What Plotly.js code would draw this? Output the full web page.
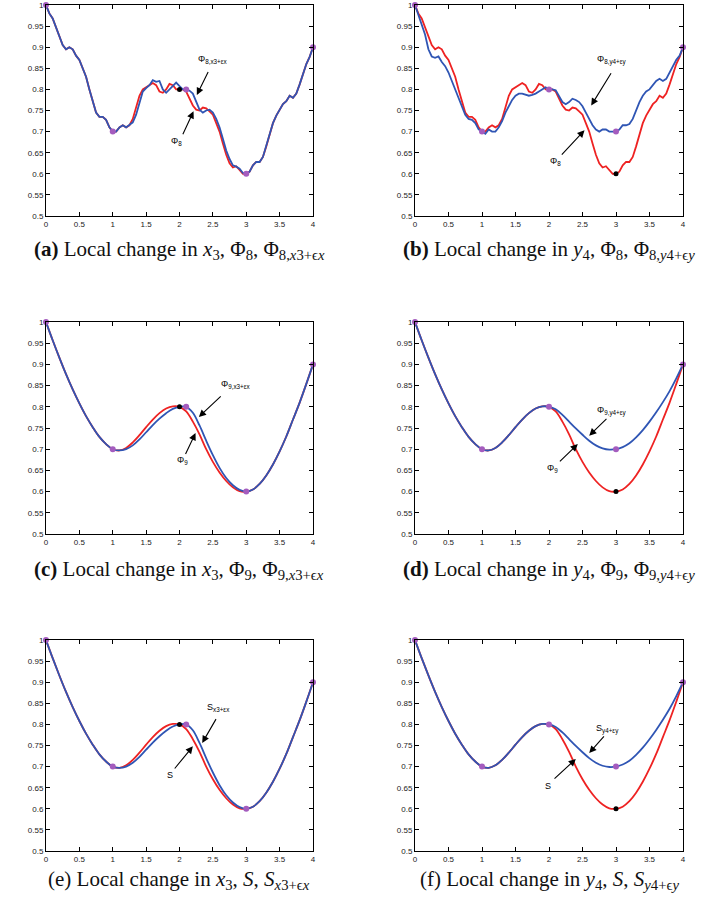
<!DOCTYPE html>
<html><head><meta charset="utf-8">
<script src="https://cdn.plot.ly/plotly-3.0.1.min.js"></script>
<style>html,body{margin:0;padding:0;background:#fff;}#plot{width:713px;height:919px;}</style>
</head><body><div id="plot"></div>
<script>
// ---------- data ----------
const xFine = [0,0.05,0.1,0.15,0.2,0.25,0.3,0.35,0.4,0.45,0.5,0.55,0.6,0.65,0.7,0.75,0.8,0.85,0.9,0.95,
  1,1.05,1.1,1.15,1.2,1.25,1.3,1.35,1.4,1.45,1.5,1.55,1.6,1.65,1.7,1.75,1.8,1.85,1.9,1.95,
  2,2.05,2.1,2.15,2.2,2.25,2.3,2.35,2.4,2.45,2.5,2.55,2.6,2.65,2.7,2.75,2.8,2.85,2.9,2.95,
  3,3.05,3.1,3.15,3.2,3.25,3.3,3.35,3.4,3.45,3.5,3.55,3.6,3.65,3.7,3.75,3.8,3.85,3.9,3.95,4];
const phi8 = [1.0,0.98,0.968,0.948,0.925,0.905,0.895,0.90,0.895,0.88,0.87,0.85,0.83,0.80,0.77,0.745,0.735,0.735,0.728,0.71,
  0.70,0.70,0.71,0.715,0.71,0.715,0.73,0.755,0.785,0.80,0.805,0.81,0.815,0.81,0.795,0.792,0.80,0.813,0.81,0.80,
  0.80,0.80,0.795,0.78,0.762,0.752,0.75,0.757,0.755,0.748,0.74,0.72,0.70,0.672,0.645,0.625,0.615,0.618,0.61,0.60,
  0.60,0.605,0.62,0.628,0.628,0.64,0.665,0.695,0.72,0.738,0.752,0.765,0.772,0.785,0.78,0.79,0.812,0.838,0.86,0.877,0.90];
const phi8x = [1.0,0.98,0.968,0.948,0.925,0.905,0.895,0.90,0.895,0.88,0.87,0.85,0.83,0.80,0.77,0.745,0.735,0.735,0.728,0.71,
  0.70,0.70,0.71,0.715,0.71,0.715,0.722,0.74,0.77,0.795,0.803,0.81,0.822,0.818,0.82,0.80,0.792,0.80,0.81,0.816,
  0.808,0.80,0.80,0.797,0.79,0.77,0.752,0.745,0.75,0.752,0.745,0.73,0.71,0.683,0.655,0.635,0.62,0.617,0.612,0.602,
  0.60,0.605,0.62,0.628,0.628,0.64,0.665,0.695,0.72,0.738,0.752,0.765,0.772,0.785,0.78,0.79,0.812,0.838,0.86,0.877,0.90];
const phi8y = [1.0,0.975,0.955,0.93,0.895,0.878,0.875,0.878,0.865,0.855,0.84,0.82,0.80,0.78,0.76,0.74,0.73,0.728,0.72,0.705,
  0.70,0.695,0.705,0.70,0.70,0.71,0.725,0.745,0.76,0.775,0.785,0.79,0.79,0.787,0.785,0.787,0.79,0.795,0.80,0.805,
  0.80,0.80,0.798,0.785,0.77,0.765,0.77,0.778,0.775,0.77,0.76,0.745,0.73,0.715,0.705,0.70,0.705,0.705,0.70,0.70,
  0.70,0.705,0.715,0.715,0.718,0.73,0.75,0.77,0.785,0.795,0.80,0.81,0.82,0.825,0.82,0.825,0.84,0.855,0.87,0.88,0.90];

const xSmooth = [0,0.1,0.2,0.3,0.4,0.5,0.6,0.7,0.8,0.9,1,1.1,1.2,1.3,1.4,1.5,1.6,1.7,1.8,1.9,
  2,2.1,2.2,2.3,2.4,2.5,2.6,2.7,2.8,2.9,3,3.1,3.2,3.3,3.4,3.5,3.6,3.7,3.8,3.9,4];
const phi9 = [1.0,0.957,0.916,0.877,0.841,0.808,0.778,0.752,0.729,0.712,0.70,0.697,0.703,0.716,0.733,0.752,0.77,0.785,0.796,0.801,
  0.80,0.789,0.765,0.735,0.70,0.67,0.645,0.625,0.61,0.601,0.60,0.605,0.618,0.638,0.664,0.695,0.73,0.77,0.81,0.854,0.90];
const phi9x = [1.0,0.957,0.916,0.877,0.841,0.808,0.778,0.752,0.729,0.712,0.70,0.697,0.70,0.709,0.723,0.74,0.757,0.772,0.785,0.795,
  0.80,0.80,0.786,0.756,0.72,0.686,0.656,0.632,0.615,0.604,0.60,0.605,0.618,0.638,0.664,0.695,0.73,0.77,0.81,0.854,0.90];
const phi9y = [1.0,0.957,0.916,0.877,0.841,0.808,0.778,0.752,0.729,0.712,0.70,0.697,0.703,0.716,0.733,0.752,0.77,0.785,0.796,0.801,
  0.80,0.794,0.781,0.765,0.749,0.734,0.72,0.709,0.702,0.699,0.70,0.705,0.714,0.728,0.745,0.765,0.787,0.811,0.837,0.867,0.90];
const sFun = [1.0,0.957,0.916,0.877,0.841,0.808,0.778,0.752,0.729,0.712,0.70,0.697,0.703,0.716,0.733,0.752,0.77,0.785,0.796,0.801,
  0.80,0.789,0.765,0.735,0.70,0.67,0.645,0.625,0.61,0.601,0.60,0.605,0.618,0.638,0.664,0.695,0.73,0.77,0.81,0.854,0.90];
const sFunX = [1.0,0.957,0.916,0.877,0.841,0.808,0.778,0.752,0.729,0.712,0.70,0.697,0.70,0.709,0.723,0.74,0.757,0.772,0.785,0.795,
  0.80,0.80,0.786,0.756,0.72,0.686,0.656,0.632,0.615,0.604,0.60,0.605,0.618,0.638,0.664,0.695,0.73,0.77,0.81,0.854,0.90];
const sFunY = [1.0,0.957,0.916,0.877,0.841,0.808,0.778,0.752,0.729,0.712,0.70,0.697,0.703,0.716,0.733,0.752,0.77,0.785,0.796,0.801,
  0.80,0.794,0.781,0.765,0.749,0.734,0.72,0.709,0.702,0.699,0.70,0.705,0.714,0.728,0.745,0.765,0.787,0.811,0.837,0.867,0.90];

// interpolation points
const ptsX_xshift = [0,1,2.1,3,4];  const ptsY_xshift = [1,0.7,0.8,0.6,0.9];
const ptsX_yshift = [0,1,2,3,4];    const ptsY_yshift = [1,0.7,0.8,0.7,0.9];
const origX_xshift = [2];   const origY_xshift = [0.8];
const origX_yshift = [3];   const origY_yshift = [0.6];

const xTicks = [0,0.5,1,1.5,2,2.5,3,3.5,4];
const xTickText = ['0','0.5','1','1.5','2','2.5','3','3.5','4'];
const yTicks = [0.5,0.55,0.6,0.65,0.7,0.75,0.8,0.85,0.9,0.95,1];
const yTickText = ['0.5','0.55','0.6','0.65','0.7','0.75','0.8','0.85','0.9','0.95','1'];

const captions = [
  '<b>(a)</b> Local change in <i>x</i><sub>3</sub>, Φ<sub>8</sub>, Φ<sub>8,<i>x</i>3+ϵ<i>x</i></sub>',
  '<b>(b)</b> Local change in <i>y</i><sub>4</sub>, Φ<sub>8</sub>, Φ<sub>8,<i>y</i>4+ϵ<i>y</i></sub>',
  '<b>(c)</b> Local change in <i>x</i><sub>3</sub>, Φ<sub>9</sub>, Φ<sub>9,<i>x</i>3+ϵ<i>x</i></sub>',
  '<b>(d)</b> Local change in <i>y</i><sub>4</sub>, Φ<sub>9</sub>, Φ<sub>9,<i>y</i>4+ϵ<i>y</i></sub>',
  '(e) Local change in <i>x</i><sub>3</sub>, <i>S</i>, <i>S</i><sub><i>x</i>3+ϵ<i>x</i></sub>',
  '(f) Local change in <i>y</i><sub>4</sub>, <i>S</i>, <i>S</i><sub><i>y</i>4+ϵ<i>y</i></sub>'
];
const curveLabels = [
  ['Φ<sub>8,x3+εx</sub>','Φ<sub>8</sub>'],
  ['Φ<sub>8,y4+εy</sub>','Φ<sub>8</sub>'],
  ['Φ<sub>9,x3+εx</sub>','Φ<sub>9</sub>'],
  ['Φ<sub>9,y4+εy</sub>','Φ<sub>9</sub>'],
  ['S<sub>x3+εx</sub>','S'],
  ['S<sub>y4+εy</sub>','S']
];
// ---------- layout ----------
const RED = '#ee2222', BLUE = '#2f55b4', PURPLE = '#a45cbe';
const panels = [
  {x: xFine, r: phi8, b: phi8x, shape:'linear', shift:'x'},
  {x: xFine, r: phi8, b: phi8y, shape:'linear', shift:'y'},
  {x: xSmooth, r: phi9, b: phi9x, shape:'spline', shift:'x'},
  {x: xSmooth, r: phi9, b: phi9y, shape:'spline', shift:'y'},
  {x: xSmooth, r: sFun, b: sFunX, shape:'spline', shift:'x'},
  {x: xSmooth, r: sFun, b: sFunY, shape:'spline', shift:'y'}
];
// [labelX,labelY, arrowTailX,tailY, tipX,tipY] for blue then red
const annPos = [
  [[2.5,0.872, 2.44,0.845, 2.26,0.787],[1.96,0.676, 2.04,0.69, 2.21,0.748]],
  [[2.94,0.869, 2.94,0.842, 2.63,0.762],[2.09,0.628, 2.17,0.642, 2.53,0.703]],
  [[2.84,0.852, 2.64,0.828, 2.29,0.776],[2.05,0.673, 2.08,0.685, 2.24,0.738]],
  [[2.94,0.79, 2.88,0.775, 2.6,0.732],[2.05,0.655, 2.14,0.668, 2.43,0.712]],
  [[2.59,0.841, 2.56,0.816, 2.34,0.756],[1.86,0.68, 1.91,0.692, 2.2,0.748]],
  [[2.88,0.79, 2.84,0.775, 2.6,0.732],[1.99,0.655, 2.06,0.668, 2.4,0.718]]
];
const W=713,H=919;
const colX = [[46,313],[415,683]];
const rowY = [[5,216],[322,534],[640,851]];
const capY = [250,570,880];

const traces=[], annotations=[];
const layout = {width:W,height:H,margin:{l:0,r:0,t:0,b:0},paper_bgcolor:'#fff',plot_bgcolor:'#fff',
  showlegend:false, font:{family:'Liberation Sans, Arial, sans-serif',size:8,color:'#222'}};

panels.forEach((p,i)=>{
  const col=i%2,row=Math.floor(i/2), n=i+1;
  const xa = n===1?'xaxis':'xaxis'+n, ya = n===1?'yaxis':'yaxis'+n;
  const xr = n===1?'x':'x'+n, yr = n===1?'y':'y'+n;
  layout[xa]={domain:[colX[col][0]/W,colX[col][1]/W],anchor:yr,range:[0,4],tickvals:xTicks,ticktext:xTickText,
    ticks:'inside',ticklen:4,tickcolor:'#000',showline:true,linecolor:'#000',linewidth:1,mirror:'ticks',
    showgrid:false,zeroline:false,tickfont:{size:8,color:'#222'}};
  layout[ya]={domain:[1-rowY[row][1]/H,1-rowY[row][0]/H],anchor:xr,range:[0.5,1],tickvals:yTicks,ticktext:yTickText,
    ticks:'inside',ticklen:4,tickcolor:'#000',showline:true,linecolor:'#000',linewidth:1,mirror:'ticks',
    showgrid:false,zeroline:false,tickfont:{size:8,color:'#222'}};
  traces.push({x:p.x,y:p.r,xaxis:xr,yaxis:yr,mode:'lines',line:{color:RED,width:1.8,shape:p.shape},hoverinfo:'skip'});
  traces.push({x:p.x,y:p.b,xaxis:xr,yaxis:yr,mode:'lines',line:{color:BLUE,width:1.8,shape:p.shape},hoverinfo:'skip'});
  const px = p.shift==='x'?ptsX_xshift:ptsX_yshift, py = p.shift==='x'?ptsY_xshift:ptsY_yshift;
  const ox = p.shift==='x'?origX_xshift:origX_yshift, oy = p.shift==='x'?origY_xshift:origY_yshift;
  traces.push({x:ox,y:oy,xaxis:xr,yaxis:yr,mode:'markers',marker:{color:'#000',size:5},hoverinfo:'skip',cliponaxis:false});
  traces.push({x:px,y:py,xaxis:xr,yaxis:yr,mode:'markers',marker:{color:PURPLE,size:6},hoverinfo:'skip',cliponaxis:false});
  annPos[i].forEach((a,k)=>{
    annotations.push({xref:xr,yref:yr,x:a[0],y:a[1],text:curveLabels[i][k],showarrow:false,
      font:{size:9,color:'#000000',family:'Liberation Sans, Arial, sans-serif'}});
    annotations.push({xref:xr,yref:yr,axref:xr,ayref:yr,x:a[4],y:a[5],ax:a[2],ay:a[3],text:'',showarrow:true,
      arrowhead:2,arrowsize:1.3,arrowwidth:1.1,arrowcolor:'#000'});
  });
  annotations.push({xref:'paper',yref:'paper',x:(colX[col][0]+colX[col][1])/2/W,y:1-capY[row]/H,text:captions[i],
    showarrow:false,xanchor:'center',yanchor:'middle',font:{family:'Liberation Serif, DejaVu Serif, serif',size:21,color:'#111'}});
});
layout.annotations=annotations;
Plotly.newPlot('plot',traces,layout,{staticPlot:true});
</script></body></html>
